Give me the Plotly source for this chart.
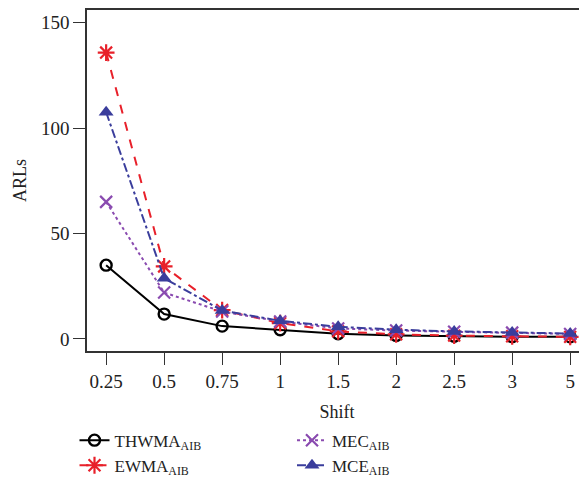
import plotly.graph_objects as go

shifts = ["0.25", "0.5", "0.75", "1", "1.5", "2", "2.5", "3", "5"]
thwma = [35.0, 11.8, 6.1, 4.4, 2.5, 1.7, 1.3, 1.1, 1.0]
ewma = [135.8, 34.4, 13.7, 7.5, 3.6, 2.2, 1.6, 1.3, 1.0]
mec = [65.0, 22.0, 13.0, 8.3, 5.0, 4.0, 3.4, 3.0, 2.4]
mce = [107.5, 28.8, 13.5, 8.6, 5.8, 4.4, 3.6, 3.1, 2.6]

serif = "Liberation Serif"
red = "#e8202a"
purple = "#8a4bb0"
blue = "#3a3d9c"

fig = go.Figure()
fig.add_trace(go.Scatter(
    x=shifts, y=thwma, mode="lines+markers",
    name="THWMA<sub>AIB</sub>",
    line=dict(color="black", width=2, dash="solid"),
    marker=dict(symbol="circle-open", size=11, color="black", line=dict(width=2.4)),
    legend="legend"))
fig.add_trace(go.Scatter(
    x=shifts, y=ewma, mode="lines+markers",
    name="EWMA<sub>AIB</sub>",
    line=dict(color=red, width=2, dash="dash"),
    marker=dict(symbol="asterisk-open", size=14, color=red, line=dict(width=2.2, color=red)),
    legend="legend"))
fig.add_trace(go.Scatter(
    x=shifts, y=mec, mode="lines+markers",
    name="MEC<sub>AIB</sub>",
    line=dict(color=purple, width=2, dash="dot"),
    marker=dict(symbol="x-thin-open", size=12, color=purple, line=dict(width=2.2, color=purple)),
    legend="legend2"))
fig.add_trace(go.Scatter(
    x=shifts, y=mce, mode="lines+markers",
    name="MCE<sub>AIB</sub>",
    line=dict(color=blue, width=2, dash="dashdot"),
    marker=dict(symbol="triangle-up", size=13, color=blue),
    legend="legend2"))

axis_common = dict(
    showline=True, linecolor="#333333", linewidth=1.5,
    ticks="outside", ticklen=12, tickwidth=1.2, tickcolor="#333333",
    showgrid=False, zeroline=False,
    tickfont=dict(family=serif, size=19, color="#222222"),
)

fig.update_layout(
    width=579, height=487,
    margin=dict(l=79, r=0, t=0, b=144),
    plot_bgcolor="white", paper_bgcolor="white",
    font=dict(family=serif, size=18, color="#222222"),
    xaxis=dict(type="category", range=[-0.33, 8.29], mirror=True,
               title=dict(text="Shift", font=dict(family=serif, size=18), standoff=15),
               **axis_common),
    yaxis=dict(range=[-5.7, 156], tickvals=[0, 50, 100, 150],
               title=dict(text="ARLs", font=dict(family=serif, size=18), standoff=10),
               **axis_common),
    legend=dict(x=-0.025, y=-0.21, xanchor="left", yanchor="top",
                bgcolor="rgba(0,0,0,0)", font=dict(family=serif, size=17),
                tracegroupgap=0, itemwidth=30),
    legend2=dict(x=0.41, y=-0.21, xanchor="left", yanchor="top",
                 bgcolor="rgba(0,0,0,0)", font=dict(family=serif, size=17),
                 tracegroupgap=0, itemwidth=30),
    showlegend=True,
)

fig.write_html("out.html")
